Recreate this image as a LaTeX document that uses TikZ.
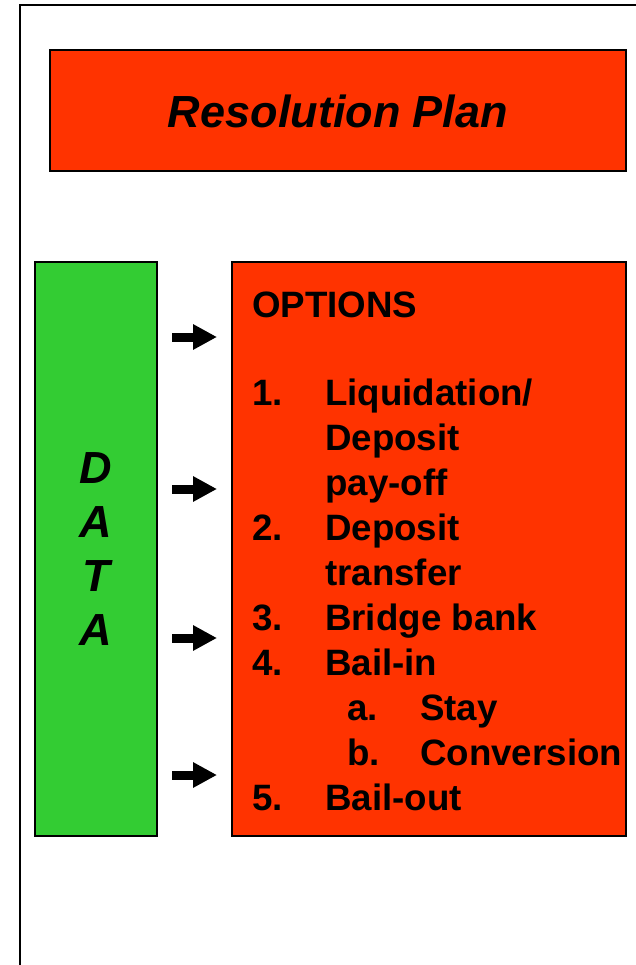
\documentclass[tikz,border=0pt]{standalone}
\usepackage{fontspec}
\setmainfont{Liberation Sans}
\usetikzlibrary{arrows.meta}

\definecolor{planred}{HTML}{FF3300}
\definecolor{datagreen}{HTML}{33CC33}

\tikzset{
  box/.style={draw=black, line width=2pt, inner sep=0pt},
  bigtext/.style={font=\fontsize{45}{54}\selectfont\bfseries\itshape},
  opt/.style={anchor=base west, inner sep=0pt, font=\fontsize{36.7}{45}\selectfont\bfseries},
  blockarrow/.style={line width=9pt, -{Triangle[length=24pt,width=24pt]}}
}

\begin{document}
\begin{tikzpicture}[x=1pt, y=-1pt]
    \useasboundingbox (0,0) rectangle (636,965);

    % frame, only its left and top sides show
    \draw[line width=2pt] (20,980) -- (20,5) -- (650,5);

    % title bar
    \node[box, fill=planred, minimum width=576pt, minimum height=121pt, bigtext] (plan) at (338,111) {Resolution Plan};

    % data column and options panel
    \node[box, fill=datagreen, minimum width=122pt, minimum height=574pt, bigtext, align=center] (data) at (96,549) {D\\A\\T\\A};
    \node[box, fill=planred, minimum width=394pt, minimum height=574pt] (options) at (429,549) {};

    % arrows from data to options
    \foreach \y [count=\i] in {337,489,638,775} {
        \coordinate (s\i) at (172,\y);
        \coordinate (t\i) at (217,\y);
        \draw[blockarrow] (s\i) -- (t\i);
    }

    % options list
    \node[opt] (head) at (252,317) {OPTIONS};
    \node[opt] (n1) at (252,405) {1.};
    \node[opt] (o1a) at (325,405) {Liquidation/};
    \node[opt] (o1b) at (325,450) {Deposit};
    \node[opt] (o1c) at (325,495) {pay-off};
    \node[opt] (n2) at (252,540) {2.};
    \node[opt] (o2a) at (325,540) {Deposit};
    \node[opt] (o2b) at (325,585) {transfer};
    \node[opt] (n3) at (252,630) {3.};
    \node[opt] (o3) at (325,630) {Bridge bank};
    \node[opt] (n4) at (252,675) {4.};
    \node[opt] (o4) at (325,675) {Bail-in};
    \node[opt] (na) at (347,720) {a.};
    \node[opt] (oa) at (420,720) {Stay};
    \node[opt] (nb) at (347,765) {b.};
    \node[opt] (ob) at (420,765) {Conversion};
    \node[opt] (n5) at (252,810) {5.};
    \node[opt] (o5) at (325,810) {Bail-out};
\end{tikzpicture}
\end{document}
